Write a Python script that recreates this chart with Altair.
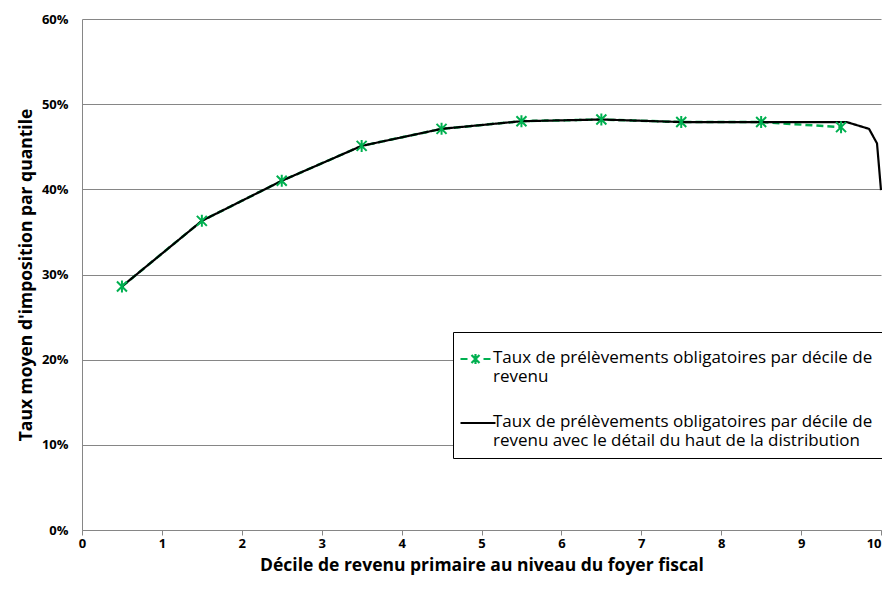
import altair as alt
import pandas as pd

S1 = "Taux de prélèvements obligatoires par décile de revenu"
S2 = "Taux de prélèvements obligatoires par décile de revenu avec le détail du haut de la distribution"

# Series 1: by decile
x1 = [0.5, 1.5, 2.5, 3.5, 4.5, 5.5, 6.5, 7.5, 8.5, 9.5]
y1 = [0.286, 0.363, 0.410, 0.451, 0.471, 0.480, 0.482, 0.479, 0.479, 0.473]

# Series 2: with detail of the top of the distribution
x2 = [0.5, 1.5, 2.5, 3.5, 4.5, 5.5, 6.5, 7.5, 8.5, 9.57, 9.85, 9.95, 10.0]
y2 = [0.286, 0.363, 0.410, 0.451, 0.471, 0.480, 0.482, 0.479, 0.479, 0.479, 0.471, 0.454, 0.399]

x_ticks = list(range(0, 11))
y_ticks = [0, 0.1, 0.2, 0.3, 0.4, 0.5, 0.6]

df1 = pd.DataFrame({"x": x1, "y": y1, "serie": S1})
df2 = pd.DataFrame({"x": x2, "y": y2, "serie": S2})

FONT = "Open Sans"
GREEN = "#00B050"

ASTER_PLOT = "M-1,-1L1,1M-1,1L1,-1M0,-1.2L0,1.2"

# legend symbols (unit = 5px, drawn slightly below the symbol centre so that
# they line up with the first line of each label)
d = 1.9
def arm(dx, dy):
    return f"M1,{d}L{1 + dx},{d + dy}"
LEG_S1 = (
    f"M-2,{d}L-0.6,{d}M2.6,{d}L4,{d}"
    + arm(0.8, 0.8) + arm(-0.8, -0.8) + arm(0.8, -0.8) + arm(-0.8, 0.8)
    + arm(0, 1) + arm(0, -1)
)
LEG_S2 = f"M-2,{d}L5.0,{d}"

color_scale = alt.Scale(domain=[S1, S2], range=[GREEN, "#000000"])
dash_scale = alt.Scale(domain=[S1, S2], range=[[7, 4], [1, 0]])
shape_scale = alt.Scale(domain=[S1, S2], range=[LEG_S1, LEG_S2])

L1a = "Taux de prélèvements obligatoires par décile de"
legend = alt.Legend(
    title=None,
    orient="none",
    legendX=371,
    legendY=313,
    direction="vertical",
    strokeColor="#000000",
    fillColor="#ffffff",
    padding=9,
    labelFont=FONT,
    labelFontSize=17,
    labelColor="#000000",
    labelLimit=600,
    labelExpr="datum.label == '" + S1 + "' ? ['" + L1a + "', 'revenu'] : ['" + L1a + "', 'revenu avec le détail du haut de la distribution']",
    labelBaseline="top",
    labelOffset=14,
    symbolSize=100,
    symbolStrokeWidth=2.2,
    symbolOpacity=1,
    symbolFillColor="transparent",
    rowPadding=20,
    offset=0,
)

xenc = alt.X(
    "x:Q",
    scale=alt.Scale(domain=[0, 10], nice=False, zero=False),
    axis=alt.Axis(
        title="Décile de revenu primaire au niveau du foyer fiscal",
        values=x_ticks,
        format="d",
        grid=False,
        labelAlign=alt.ExprRef(expr="datum.value == 10 ? 'right' : 'center'"),
    ),
)
yenc = alt.Y(
    "y:Q",
    scale=alt.Scale(domain=[0, 0.6], nice=False),
    axis=alt.Axis(
        title="Taux moyen d'imposition par quantile",
        values=y_ticks,
        format=".0%",
        grid=True,
        ticks=False,
    ),
)

col = alt.Color("serie:N", scale=color_scale, legend=legend)
dash = alt.StrokeDash("serie:N", scale=dash_scale, legend=legend)

green_line = alt.Chart(df1).mark_line(strokeWidth=2.5).encode(
    x=xenc, y=yenc, color=col, strokeDash=dash
)

black_line = alt.Chart(df2).mark_line(strokeWidth=2.2).encode(
    x=xenc, y=yenc, color=col, strokeDash=dash
)

points = alt.Chart(df1).mark_point(
    filled=False, size=100, strokeWidth=2, opacity=1, shape=ASTER_PLOT
).encode(x=xenc, y=yenc, color=col)

# carries the legend symbols (line + asterisk); itself invisible
legend_layer = alt.Chart(df1).mark_point(
    filled=False, opacity=0, size=1
).encode(
    x=xenc,
    y=yenc,
    color=col,
    strokeDash=dash,
    shape=alt.Shape("serie:N", scale=shape_scale, legend=legend),
)

chart = (
    alt.layer(green_line, black_line, points, legend_layer)
    .properties(
        width=799,
        height=511,
        autosize=alt.AutoSizeParams(type="none"),
        padding={"left": 74, "top": 11, "right": 1, "bottom": 46},
        background="#ffffff",
    )
    .configure_view(stroke=None)
    .configure_axis(
        labelFont=FONT,
        labelFontWeight="bold",
        labelFontSize=13,
        labelColor="#000000",
        titleFont=FONT,
        titleFontWeight="bold",
        titleFontSize=17.5,
        titleColor="#000000",
        domainColor="#868686",
        tickColor="#868686",
        gridColor="#868686",
        gridWidth=1,
        domainWidth=1,
    )
    .configure_axisX(tickSize=5, labelPadding=2, titlePadding=6)
    .configure_axisY(labelPadding=14, titlePadding=6)
)

chart.save("out.html", embed_options={"renderer": "svg", "actions": False})
